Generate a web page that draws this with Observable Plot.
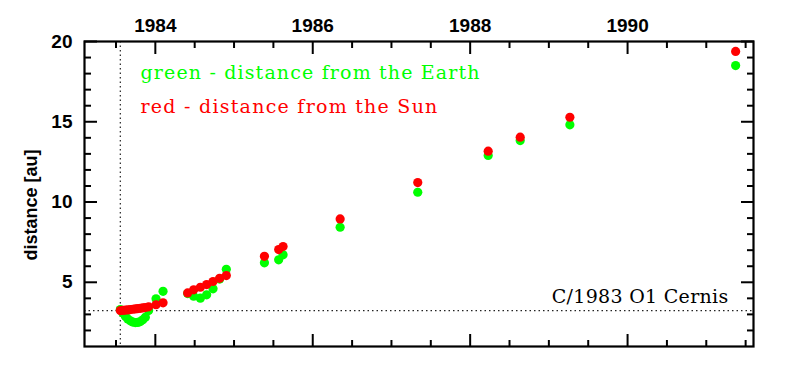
<!DOCTYPE html>
<html><head><meta charset="utf-8">
<script src="https://cdn.jsdelivr.net/npm/d3@7"></script>
<script src="https://cdn.jsdelivr.net/npm/@observablehq/plot@0.6"></script>
<style>html,body{margin:0;padding:0;background:#fff}</style>
</head><body><div id="chart"></div>
<script>
// observation epochs (decimal year)
const dates = [
  1983.555, 1983.587, 1983.619, 1983.650, 1983.682, 1983.714, 1983.746, 1983.778,
  1983.809, 1983.841, 1983.873, 1983.915, 1984.009, 1984.098,
  1984.411, 1984.487, 1984.572, 1984.652, 1984.733, 1984.817, 1984.902,
  1985.386, 1985.567, 1985.623,
  1986.348, 1987.334, 1988.229, 1988.636, 1989.267, 1991.373
];
// distance from the Sun [au] (red)
const sunDist = [
  3.24, 3.25, 3.27, 3.28, 3.30, 3.32, 3.34, 3.36,
  3.38, 3.40, 3.43, 3.47, 3.60, 3.72,
  4.34, 4.53, 4.69, 4.86, 5.05, 5.25, 5.42,
  6.62, 7.04, 7.23,
  8.95, 11.21, 13.17, 14.04, 15.28, 19.38
];
// distance from the Earth [au] (green)
const earthDist = [
  3.30, 3.08, 2.88, 2.72, 2.60, 2.52, 2.49, 2.50,
  2.55, 2.66, 2.82, 3.24, 3.97, 4.44,
  4.30, 4.13, 4.01, 4.22, 4.59, 5.20, 5.81,
  6.21, 6.40, 6.71,
  8.43, 10.61, 12.90, 13.83, 14.81, 18.50
];
const periDate = [1983.555];
const periDist = [3.24];
const xMajor = [1984, 1986, 1988, 1990];
const xMinor = [1983.5, 1984.5, 1985, 1985.5, 1986.5, 1987, 1987.5, 1988.5, 1989, 1989.5, 1990.5, 1991, 1991.5];
const yMajor = [5, 10, 15, 20];
const yMinor = [2, 3, 4, 6, 7, 8, 9, 11, 12, 13, 14, 16, 17, 18, 19];
const legendGreen = ["green - distance from the Earth"];
const legendRed = ["red - distance from the Sun"];
const cometName = ["C/1983 O1 Cernis"];
const yLabel = ["distance [au]"];

const rows = dates.map((d, i) => ({date: d, sun: sunDist[i], earth: earthDist[i]}));
const GREEN = "#00ff00", RED = "#ff0000";
const tickFont = {fontSize: 19, fontWeight: "bold", fontFamily: "Liberation Sans, Arial, sans-serif"};
const serif = "DejaVu Serif, serif";
const blank = () => "";

const chart = Plot.plot({
  width: 793, height: 376,
  marginLeft: 84, marginRight: 40, marginTop: 41, marginBottom: 30,
  x: {domain: [1983.1, 1991.6], label: null},
  y: {domain: [1, 20], label: null},
  style: {background: "white", overflow: "visible"},
  marks: [
    Plot.ruleY(periDist, {stroke: "#222", strokeWidth: 1.2, strokeDasharray: "1.5,3"}),
    Plot.ruleX(periDate, {stroke: "#222", strokeWidth: 1.2, strokeDasharray: "1.5,3"}),
    Plot.dot(rows, {x: "date", y: "earth", r: 4.6, fill: GREEN, stroke: "none"}),
    Plot.dot(rows, {x: "date", y: "sun", r: 4.6, fill: RED, stroke: "none"}),
    Plot.frame({stroke: "black", strokeWidth: 2.2}),
    Plot.axisX(xMajor, {anchor: "top", tickSize: -12, tickPadding: 21.3, strokeWidth: 2, label: null, tickFormat: d => String(d), ...tickFont}),
    Plot.axisX(xMinor, {anchor: "top", tickSize: -6, strokeWidth: 2, label: null, tickFormat: blank}),
    Plot.axisX(xMajor, {anchor: "bottom", tickSize: -12, strokeWidth: 2, label: null, tickFormat: blank}),
    Plot.axisX(xMinor, {anchor: "bottom", tickSize: -6, strokeWidth: 2, label: null, tickFormat: blank}),
    Plot.axisY(yMajor, {anchor: "left", tickSize: -13, tickPadding: 25, strokeWidth: 2, label: null, tickFormat: d => String(d), ...tickFont}),
    Plot.axisY(yMinor, {anchor: "left", tickSize: -7, strokeWidth: 2, label: null, tickFormat: blank}),
    Plot.axisY(yMajor, {anchor: "right", tickSize: -13, strokeWidth: 2, label: null, tickFormat: blank}),
    Plot.axisY(yMinor, {anchor: "right", tickSize: -7, strokeWidth: 2, label: null, tickFormat: blank}),
    Plot.text(legendGreen, {text: d => d, frameAnchor: "top-left", dx: 56, dy: 31.3, textAnchor: "start", lineAnchor: "middle", fill: GREEN, fontSize: 19, fontFamily: serif}),
    Plot.text(legendRed, {text: d => d, frameAnchor: "top-left", dx: 56, dy: 65.7, textAnchor: "start", lineAnchor: "middle", fill: RED, fontSize: 19, fontFamily: serif}),
    Plot.text(cometName, {text: d => d, frameAnchor: "bottom-right", dx: -25, dy: -49.7, textAnchor: "end", lineAnchor: "middle", fill: "black", fontSize: 19, fontFamily: serif}),
    Plot.text(yLabel, {text: d => d, frameAnchor: "left", rotate: -90, dx: -53, dy: 11, textAnchor: "middle", lineAnchor: "middle", fill: "black", fontSize: 18, fontWeight: "bold", fontFamily: "Liberation Sans, Arial, sans-serif"})
  ]
});
document.getElementById("chart").appendChild(chart);
// widen the annotation lettering to match the original's wide plotting font
const spacing = new Map([[legendGreen[0], "1.15px"], [legendRed[0], "1.25px"], [cometName[0], "0.3px"]]);
d3.select(chart).selectAll("text").each(function () {
  const s = spacing.get(this.textContent);
  if (s) this.style.letterSpacing = s;
});
</script>
</body></html>
